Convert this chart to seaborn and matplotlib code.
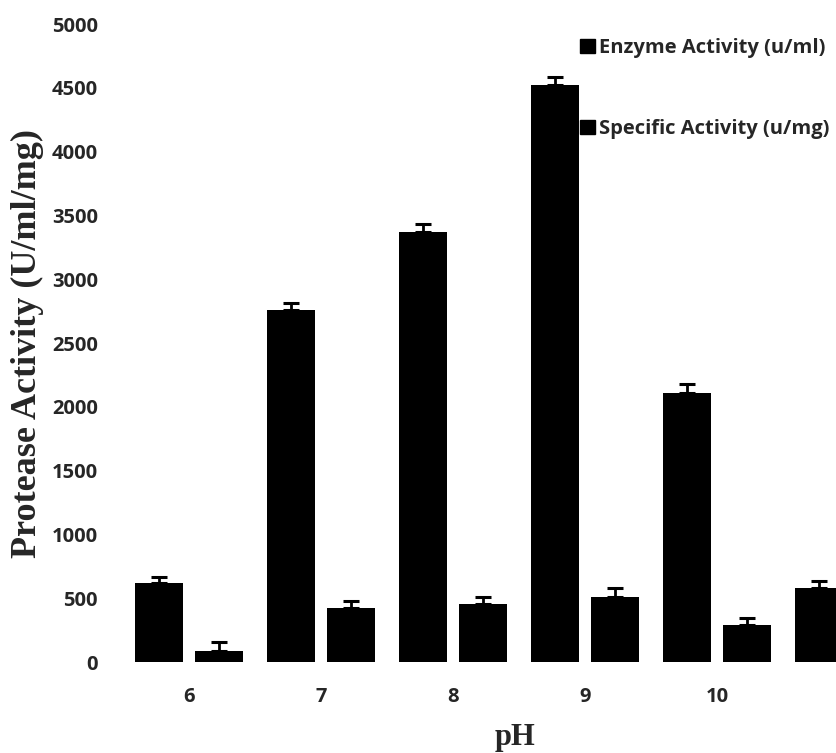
import numpy as np
import pandas as pd
import matplotlib
matplotlib.use("Agg")
import matplotlib.pyplot as plt
import seaborn as sns
from matplotlib.patches import Patch

ph_labels = ["6", "7", "8", "9", "10", "11"]
enzyme_activity = [619, 2759, 3370, 4522, 2108, 580]
enzyme_err = [47, 55, 60, 62, 70, 55]
specific_activity = [86, 423, 455, 509, 290, np.nan]
specific_err = [70, 55, 55, 70, 55, np.nan]
series_names = ["Enzyme Activity (u/ml)", "Specific Activity (u/mg)"]

df = pd.DataFrame({
    "pH": ph_labels * 2,
    "value": enzyme_activity + specific_activity,
    "series": [series_names[0]] * len(ph_labels) + [series_names[1]] * len(ph_labels),
})

sns.set_style("white")
plt.rcParams["font.family"] = ["Open Sans", "DejaVu Sans"]

fig = plt.figure(figsize=(8.37, 7.53), dpi=100)
ax = fig.add_axes([0.14, 0.1208, 0.86, 0.8473])

sns.barplot(data=df, x="pH", y="value", hue="series", order=ph_labels,
            hue_order=series_names, palette=["black", "black"],
            width=0.91, gap=0.2, errorbar=None, ax=ax, legend=False,
            edgecolor="black", linewidth=0)

for cont, errs in zip(ax.containers, [enzyme_err, specific_err]):
    xs, ys, es = [], [], []
    for bar, e in zip(cont.patches, errs):
        h = bar.get_height()
        if np.isnan(h) or np.isnan(e):
            continue
        xs.append(bar.get_x() + bar.get_width() / 2)
        ys.append(h)
        es.append(e)
    ax.errorbar(xs, ys, yerr=[np.zeros(len(es)), es], fmt="none",
                ecolor="black", elinewidth=2, capsize=6, capthick=2.2)

ax.set_xlim(-0.545, 4.909)
ax.set_ylim(0, 5000)
ax.set_yticks(np.arange(0, 5001, 500))
for s in ax.spines.values():
    s.set_visible(False)
ax.tick_params(axis="both", length=0, labelsize=14.5)
ax.tick_params(axis="x", pad=18)
ax.tick_params(axis="y", pad=14)
for lab in ax.get_xticklabels() + ax.get_yticklabels():
    lab.set_fontweight("bold")

ax.set_xlabel("pH", fontfamily="Liberation Serif", fontweight="bold", fontsize=22)
ax.xaxis.set_label_coords(0.553, -0.095)
ax.set_ylabel("Protease Activity (U/ml/mg)", fontfamily="Liberation Serif",
              fontweight="bold", fontsize=26)
ax.yaxis.set_label_coords(-0.102, 0.5)

handles = [Patch(facecolor="black", edgecolor="black") for _ in series_names]
leg = ax.legend(handles, series_names, loc="upper right", bbox_to_anchor=(1.0, 0.99),
                frameon=False, handlelength=0.7, handleheight=0.7,
                handletextpad=0.2, labelspacing=3.0, borderaxespad=0.0,
                prop={"family": "Open Sans", "weight": "bold", "size": 14.5})

fig.savefig("out.png", dpi=100)
